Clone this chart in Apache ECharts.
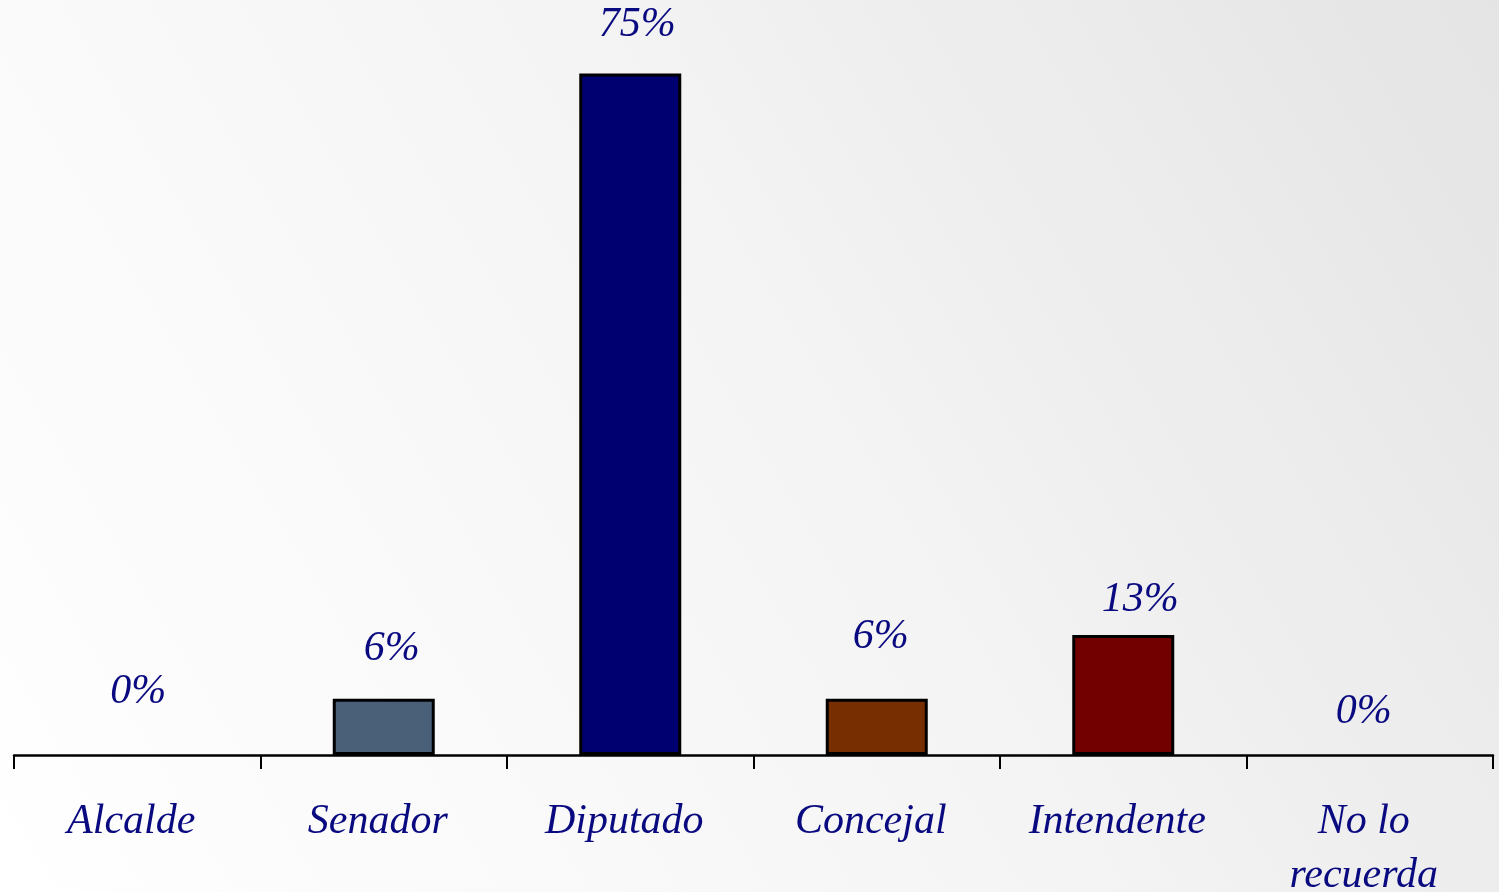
<!DOCTYPE html>
<html>
<head>
<meta charset="utf-8">
<script src="https://cdn.jsdelivr.net/npm/echarts@6/dist/echarts.min.js"></script>
<style>
html,body{margin:0;padding:0;}
#c{width:1499px;height:892px;}
</style>
</head>
<body>
<div id="c"></div>
<script>
const categories = ['Alcalde', 'Senador', 'Diputado', 'Concejal', 'Intendente', 'No lo\nrecuerda'];
const values = [0, 6.2, 75, 6.2, 13.2, 0];
const barColors = ['#4a5f78', '#4a5f78', '#000070', '#772e00', '#730000', '#4a5f78'];

// label nudges (presentation only)
const labelShift = [[1, -42], [8, -29], [7, -27], [4, -41], [17, -14], [-6, -22]];

const chart = echarts.init(document.getElementById('c'), null, {renderer: 'canvas'});
const textColor = '#0a0a80';
const font = '"Liberation Serif", "Times New Roman", serif';

chart.setOption({
  backgroundColor: {
    type: 'linear', x: 0, y: 1, x2: 1, y2: 0,
    colorStops: [{offset: 0, color: '#ffffff'}, {offset: 0.5, color: '#f5f5f5'}, {offset: 1, color: '#e4e4e4'}]
  },
  animation: false,
  grid: {left: 14, right: 6, top: 28, bottom: 137, containLabel: false, outerBoundsMode: 'none'},
  xAxis: {
    type: 'category',
    data: categories,
    axisLine: {lineStyle: {color: '#000', width: 2.5}},
    axisTick: {show: true, length: 14, lineStyle: {color: '#000', width: 2}},
    axisLabel: {
      color: textColor, fontFamily: font, fontStyle: 'italic', fontSize: 42,
      lineHeight: 54, margin: 40, interval: 0, padding: [0, 12, 0, 0]
    }
  },
  yAxis: {
    type: 'value', min: 0, max: 80,
    show: false, splitLine: {show: false}
  },
  series: [{
    type: 'bar',
    barWidth: 102,
    data: values.map((v, i) => ({
      value: v,
      itemStyle: {color: barColors[i], borderColor: '#000', borderWidth: v > 0 ? 3 : 0},
      label: {offset: labelShift[i]}
    })),
    label: {
      show: true, position: 'top', distance: 0,
      color: textColor, fontFamily: font, fontStyle: 'italic', fontSize: 42, lineHeight: 42,
      formatter: p => Math.round(p.value) + '%'
    }
  }]
});
</script>
</body>
</html>
